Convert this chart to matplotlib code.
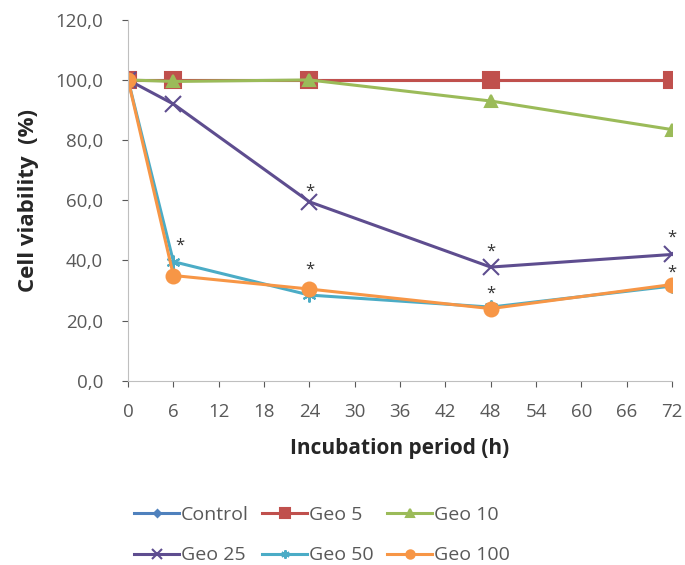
import matplotlib
matplotlib.use("Agg")
import matplotlib.pyplot as plt
from matplotlib.ticker import FuncFormatter

plt.rcParams['font.family'] = ['Open Sans', 'DejaVu Sans']

hours = [0, 6, 24, 48, 72]
control = [100, 100, 100, 100, 100]
geo5 = [100, 100, 100, 100, 100]
geo10 = [100, 99.5, 100, 93, 83.5]
geo25 = [100, 92, 59.5, 37.8, 42]
geo50 = [100, 39.6, 28.5, 24.5, 31.5]
geo100 = [100, 35, 30.5, 24, 32]

# significance marks (x, y)
star_x = [6.8, 24, 24, 48, 48, 72, 72]
star_y = [45, 63, 37, 43, 29, 47.5, 36]

names = ['Control', 'Geo 5', 'Geo 10', 'Geo 25', 'Geo 50', 'Geo 100']
series = [control, geo5, geo10, geo25, geo50, geo100]
colors = ['#4F81BD', '#C0504D', '#9BBB59', '#5E4D8F', '#4BACC6', '#F79646']
markers = ['D', 's', '^', 'x', (6, 2, 0), 'o']
msizes = [6, 11, 9, 11, 10, 10]

fig = plt.figure(figsize=(6.85, 5.65), dpi=100)
ax = fig.add_axes([0.187, 0.326, 0.794, 0.639])

handles = []
for vals, name, c, m, ms in zip(series, names, colors, markers, msizes):
    h, = ax.plot(hours, vals, color=c, marker=m, markersize=ms, lw=2.2,
                 markeredgewidth=1.5, label=name)
    handles.append(h)

for x, y in zip(star_x, star_y):
    ax.text(x, y, '*', ha='center', va='center', fontsize=12, color='#333333')

ax.set_xlim(0, 72)
ax.set_ylim(0, 120)
ax.set_xticks(range(0, 73, 6))
ax.set_yticks(range(0, 121, 20))
ax.yaxis.set_major_formatter(FuncFormatter(lambda v, p: f"{v:.1f}".replace('.', ',')))
ax.tick_params(labelsize=13.5, colors='#595959', length=4, direction='out')
ax.tick_params(axis='x', pad=12)
ax.tick_params(axis='y', pad=14)
for s in ['top', 'right']:
    ax.spines[s].set_visible(False)
for s in ['left', 'bottom']:
    ax.spines[s].set_color('#BFBFBF')

ax.set_xlabel('Incubation period (h)', fontsize=15, fontweight='bold', color='#262626', labelpad=12)
ax.set_ylabel('Cell viability  (%)', fontsize=16, fontweight='bold', color='#262626', labelpad=12)

order = [0, 3, 1, 4, 2, 5]
fig.legend([handles[i] for i in order], [names[i] for i in order],
           loc='lower center', bbox_to_anchor=(0.47, -0.03), ncol=3, frameon=False,
           fontsize=14, handlelength=2.3, columnspacing=0.7, handletextpad=0.1,
           labelspacing=1.15, labelcolor='#595959', markerscale=0.6)

fig.savefig('out.png', dpi=100)
